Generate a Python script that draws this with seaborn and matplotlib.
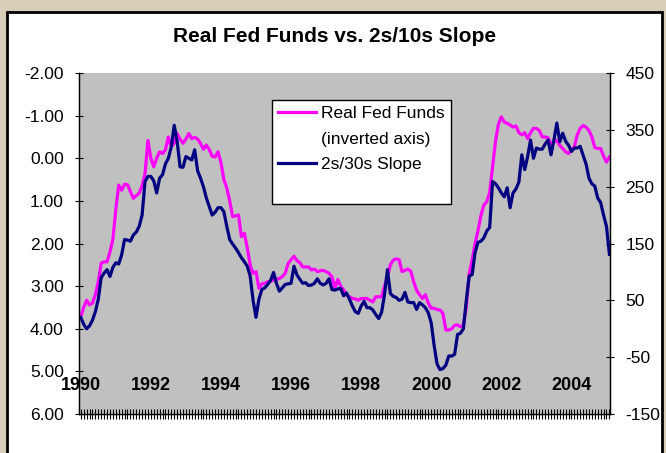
import numpy as np
import pandas as pd
import seaborn as sns
import matplotlib.pyplot as plt
from matplotlib.patches import Rectangle
from matplotlib.lines import Line2D
from matplotlib.ticker import MultipleLocator, FixedLocator

# monthly data, Jan 1990 - Feb 2005
start_year = 1990

# real fed funds (%), drawn on an inverted left axis
real_fed_funds = [
    3.72, 3.50, 3.33, 3.44, 3.40, 3.20, 2.90, 2.46, 2.43, 2.43, 2.20, 1.90,   # 1990
    1.20, 0.63, 0.75, 0.61, 0.62, 0.78, 0.94, 0.88, 0.82, 0.65, 0.36, -0.42,  # 1991
    0.00, 0.20, 0.00, -0.15, -0.11, -0.20, -0.50, -0.27, -0.35, -0.58, -0.45, -0.35,  # 1992
    -0.45, -0.58, -0.46, -0.49, -0.45, -0.35, -0.21, -0.31, -0.20, -0.05, -0.03, -0.15,  # 1993
    0.10, 0.50, 0.70, 1.00, 1.37, 1.35, 1.33, 1.84, 1.76, 2.10, 2.50, 2.70,  # 1994
    2.66, 3.05, 2.95, 2.93, 2.90, 2.88, 2.86, 2.84, 2.82, 2.78, 2.70, 2.47,  # 1995
    2.38, 2.30, 2.40, 2.45, 2.55, 2.55, 2.55, 2.62, 2.60, 2.66, 2.64, 2.63,  # 1996
    2.66, 2.70, 2.78, 3.05, 2.84, 3.00, 3.09, 3.21, 3.25, 3.29, 3.30, 3.33,  # 1997
    3.29, 3.29, 3.29, 3.33, 3.37, 3.25, 3.25, 3.25, 3.00, 2.78, 2.50, 2.39,  # 1998
    2.36, 2.38, 2.66, 2.63, 2.60, 2.65, 2.90, 3.10, 3.20, 3.29, 3.20, 3.40,  # 1999
    3.52, 3.52, 3.55, 3.56, 3.64, 4.03, 4.03, 4.00, 3.92, 3.91, 3.95, 3.92,  # 2000
    3.48, 2.70, 2.39, 2.00, 1.70, 1.35, 1.10, 1.02, 0.80, 0.20, -0.40, -0.80,  # 2001
    -0.97, -0.85, -0.82, -0.78, -0.73, -0.76, -0.60, -0.55, -0.60, -0.46, -0.60, -0.70,  # 2002
    -0.70, -0.65, -0.50, -0.50, -0.48, -0.34, -0.38, -0.42, -0.30, -0.23, -0.15, -0.11,  # 2003
    -0.20, -0.27, -0.55, -0.70, -0.77, -0.73, -0.65, -0.50, -0.25, -0.23, -0.23, -0.05,  # 2004
    0.09, -0.03,  # 2005
]

# 2s/30s slope (bp), right axis
slope_2s30s = [
    20, 8, 0, 5, 15, 30, 52, 90, 98, 104, 92, 108,  # 1990
    116, 114, 130, 157, 156, 154, 165, 170, 180, 200, 259, 268,  # 1991
    268, 260, 239, 265, 271, 290, 300, 320, 358, 330, 285, 284,  # 1992
    303, 300, 297, 315, 278, 265, 250, 230, 215, 200, 205, 213,  # 1993
    213, 206, 180, 157, 149, 142, 134, 125, 118, 110, 93, 50,  # 1994
    20, 52, 69, 72, 78, 85, 99, 80, 66, 72, 78, 79,  # 1995
    80, 110, 95, 87, 80, 81, 76, 77, 80, 88, 80, 77,  # 1996
    80, 88, 69, 68, 70, 71, 58, 63, 52, 40, 30, 27,  # 1997
    40, 48, 37, 37, 33, 25, 18, 29, 60, 104, 62, 57,  # 1998
    55, 50, 52, 64, 47, 46, 46, 34, 46, 42, 37, 28,  # 1999
    10, -30, -62, -72, -70, -64, -48, -48, -45, -10, -8, 0,  # 2000
    50, 93, 95, 134, 152, 154, 160, 172, 178, 259, 255, 248,  # 2001
    239, 232, 248, 213, 239, 246, 258, 306, 280, 303, 332, 300,  # 2002
    318, 316, 316, 325, 332, 306, 332, 362, 329, 344, 330, 323,  # 2003
    312, 318, 318, 321, 305, 290, 265, 255, 251, 230, 222, 200,  # 2004
    180, 131,  # 2005
]

year_labels = [1990, 1992, 1994, 1996, 1998, 2000, 2002, 2004]
left_ticks = [-2, -1, 0, 1, 2, 3, 4, 5, 6]
right_ticks = [-150, -50, 50, 150, 250, 350, 450]

df = pd.DataFrame({
    "year": start_year + np.arange(len(real_fed_funds)) / 12,
    "real_ff": real_fed_funds,
    "slope": slope_2s30s,
})

plt.rcParams['font.family'] = ['Liberation Sans', 'DejaVu Sans']

fig = plt.figure(figsize=(6.66, 4.53), dpi=100)
fig.patch.set_facecolor('#d8cdb6')
# white chart area with black border, behind everything
chart_box = Rectangle((7 / 666, -0.05), 655 / 666, 1.05 - 12 / 453,
                      transform=fig.transFigure, facecolor='white',
                      edgecolor='black', linewidth=2, zorder=-10)
fig.add_artist(chart_box)

ax = fig.add_axes([79 / 666, 1 - 414 / 453, 531 / 666, 341 / 453])
ax.set_facecolor('#c0c0c0')
ax2 = ax.twinx()

sns.lineplot(data=df, x="year", y="real_ff", ax=ax, color='#ff00ff', linewidth=2.3)
sns.lineplot(data=df, x="year", y="slope", ax=ax2, color='#000080', linewidth=2.3)

ax.set_xlim(1989.95, 2005.1)
ax.set_ylim(6, -2)
ax2.set_ylim(-150, 450)
ax.set_xlabel("")
ax.set_ylabel("")
ax2.set_ylabel("")

ax.yaxis.set_major_locator(FixedLocator(left_ticks))
ax.set_yticklabels([f"{v:.2f}" for v in left_ticks])
ax2.yaxis.set_major_locator(FixedLocator(right_ticks))
ax2.set_yticklabels([str(v) for v in right_ticks])

ax.set_xticks(year_labels)
ax.set_xticklabels([str(y) for y in year_labels], fontweight='bold', fontsize=13)
ax.xaxis.set_minor_locator(MultipleLocator(1 / 12))
ax.tick_params(axis='x', which='both', direction='inout', length=7, width=0.8, color='black')
ax.tick_params(axis='x', which='major', pad=-30)
ax.tick_params(axis='y', direction='inout', length=6, width=0.8, pad=8, labelsize=12.5)
ax2.tick_params(axis='y', direction='inout', length=6, width=0.8, pad=8, labelsize=12.5)

for a in (ax, ax2):
    a.spines['top'].set_visible(False)
    for s in ('left', 'right', 'bottom'):
        a.spines[s].set_color('black')
        a.spines[s].set_linewidth(0.9)
    a.grid(False)

fig.text(335 / 666, 1 - 37 / 453, "Real Fed Funds vs. 2s/10s Slope",
         ha='center', va='center', fontsize=15, fontweight='bold')

# Excel-style legend: handle on the first line, empty space at the bottom
blank = Line2D([], [], color='none')
handles = [ax.get_lines()[0], blank, ax2.get_lines()[0], blank]
labels = ["Real Fed Funds", "(inverted axis)", "2s/30s Slope", " "]
leg = ax2.legend(handles, labels,
                 loc='upper left', bbox_to_anchor=(272 / 666, 1 - 100 / 453),
                 bbox_transform=fig.transFigure, fontsize=12.5, frameon=True,
                 fancybox=False, edgecolor='black', framealpha=1,
                 borderpad=0.35, handlelength=2.2, handletextpad=0.3,
                 labelspacing=0.6, borderaxespad=0)
leg.get_frame().set_linewidth(1.0)

fig.savefig("out.png", dpi=100, facecolor=fig.get_facecolor())
